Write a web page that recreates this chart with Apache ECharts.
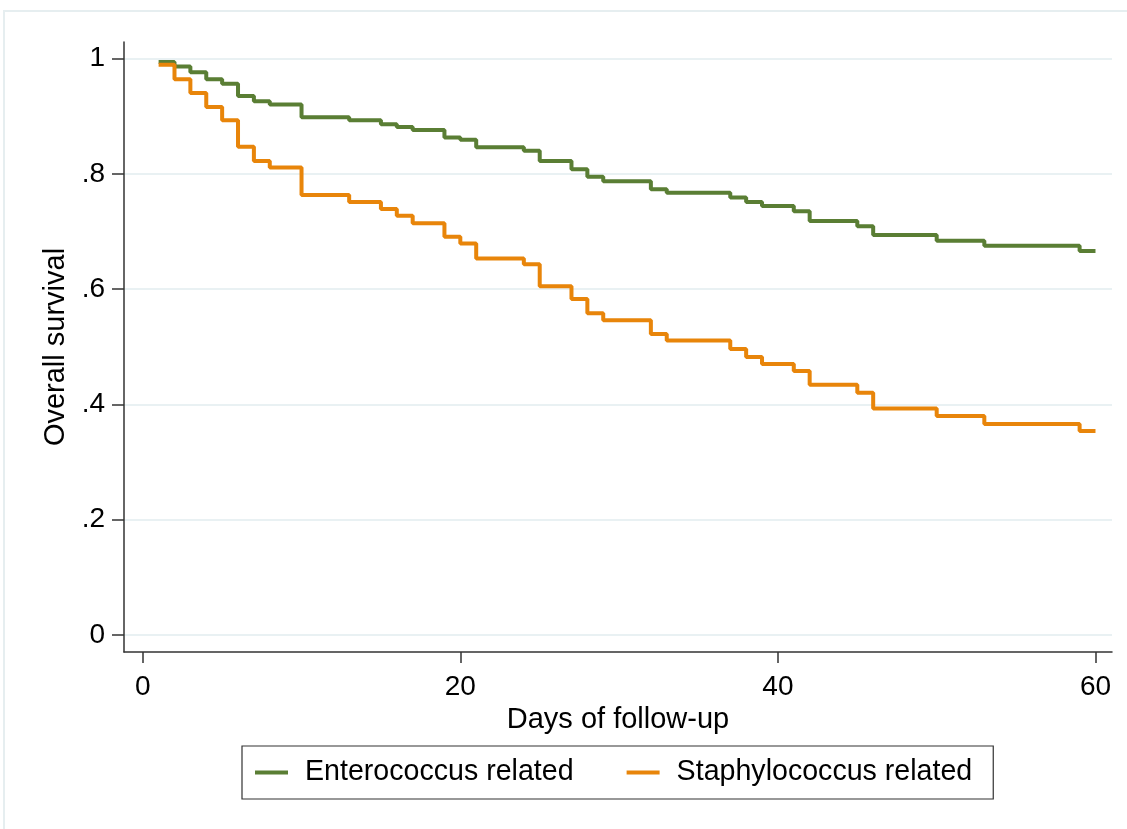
<!DOCTYPE html>
<html>
<head>
<meta charset="utf-8">
<title>Overall survival</title>
<script src="https://cdn.jsdelivr.net/npm/echarts@6/dist/echarts.min.js"></script>
<style>
  html, body { margin: 0; padding: 0; background: #fff; }
  #chart { width: 1127px; height: 829px; }
</style>
</head>
<body>
<div id="chart"></div>
<script>
// days on which the survival estimate changes (both groups)
const days = [1, 2, 3, 4, 5, 6, 7, 8, 10, 13, 15, 16, 17, 19, 20, 21, 24, 25, 27, 28, 29, 32, 33, 37, 38, 39, 41, 42, 45, 46, 50, 53, 59, 60];
const enterococcus = [0.994, 0.986, 0.976, 0.964, 0.956, 0.935, 0.926, 0.920, 0.898, 0.893, 0.886, 0.881, 0.876, 0.863, 0.859, 0.846, 0.840, 0.822, 0.808, 0.795, 0.787, 0.773, 0.767, 0.759, 0.751, 0.744, 0.735, 0.718, 0.709, 0.694, 0.684, 0.675, 0.666, 0.666];
const staphylococcus = [0.989, 0.964, 0.940, 0.916, 0.893, 0.847, 0.822, 0.811, 0.763, 0.751, 0.739, 0.727, 0.714, 0.691, 0.679, 0.653, 0.643, 0.605, 0.583, 0.558, 0.546, 0.522, 0.511, 0.496, 0.482, 0.470, 0.458, 0.434, 0.420, 0.393, 0.380, 0.366, 0.354, 0.354];

const xTicks = [0, 20, 40, 60];
const yTicks = [0, 0.2, 0.4, 0.6, 0.8, 1];
const yTickLabels = ["0", ".2", ".4", ".6", ".8", "1"];

const seriesNames = ["Enterococcus related", "Staphylococcus related"];
const colors = ["#5a7e34", "#e8850a"];

const font = "'Liberation Sans', Arial, sans-serif";

const myChart = echarts.init(document.getElementById("chart"));

const option = {
  animation: false,
  backgroundColor: "#fff",
  color: colors,
  grid: {
    left: 124,
    right: 15,
    top: 42,
    bottom: 177,
    containLabel: false,
    outerBoundsMode: "none",
  },
  xAxis: {
    type: "value",
    min: -1.18,
    max: 61.04,
    name: "Days of follow-up",
    nameLocation: "middle",
    nameGap: 45,
    nameTextStyle: { fontFamily: font, fontSize: 29, color: "#000" },
    axisLine: { show: true, onZero: false, lineStyle: { color: "#333", width: 1.5 } },
    axisTick: { show: true, length: 11, customValues: xTicks, lineStyle: { color: "#333", width: 1.5 } },
    axisLabel: { customValues: xTicks, margin: 21, fontFamily: font, fontSize: 28, color: "#000" },
    splitLine: { show: false },
  },
  yAxis: {
    type: "value",
    min: -0.0295,
    max: 1.0286,
    name: "Overall survival",
    nameLocation: "middle",
    nameGap: 53,
    nameTextStyle: { fontFamily: font, fontSize: 29, color: "#000" },
    axisLine: { show: true, onZero: false, lineStyle: { color: "#333", width: 1.5 } },
    axisTick: { show: true, length: 12, customValues: yTicks, lineStyle: { color: "#333", width: 1.5 } },
    axisLabel: {
      customValues: yTicks,
      margin: 19,
      fontFamily: font,
      fontSize: 28,
      color: "#000",
      formatter: (v) => yTickLabels[yTicks.indexOf(v)] ?? "",
    },
    splitLine: { show: true, lineStyle: { color: "#e9f1f3", width: 2 } },
  },
  legend: {
    left: 242,
    top: 746,
    orient: "horizontal",
    icon: "rect",
    itemWidth: 33,
    itemHeight: 4,
    itemGap: 53,
    padding: [12, 21, 12, 13],
    borderColor: "#333",
    borderWidth: 1.2,
    borderRadius: 0,
    textStyle: { fontFamily: font, fontSize: 28.6, color: "#000", padding: [0, 0, 0, 12] },
    data: seriesNames,
  },
  graphic: [
    {
      type: "rect",
      shape: { x: 4, y: 11, width: 1200, height: 900 },
      style: { fill: "none", stroke: "#e6eef0", lineWidth: 2 },
      silent: true,
      z: -1,
    },
  ],
  series: [
    {
      name: seriesNames[0],
      type: "line",
      step: "end",
      showSymbol: false,
      lineStyle: { width: 4 },
      data: days.map((d, i) => [d, enterococcus[i]]),
    },
    {
      name: seriesNames[1],
      type: "line",
      step: "end",
      showSymbol: false,
      lineStyle: { width: 4 },
      data: days.map((d, i) => [d, staphylococcus[i]]),
    },
  ],
};

myChart.setOption(option, true);
</script>
</body>
</html>
